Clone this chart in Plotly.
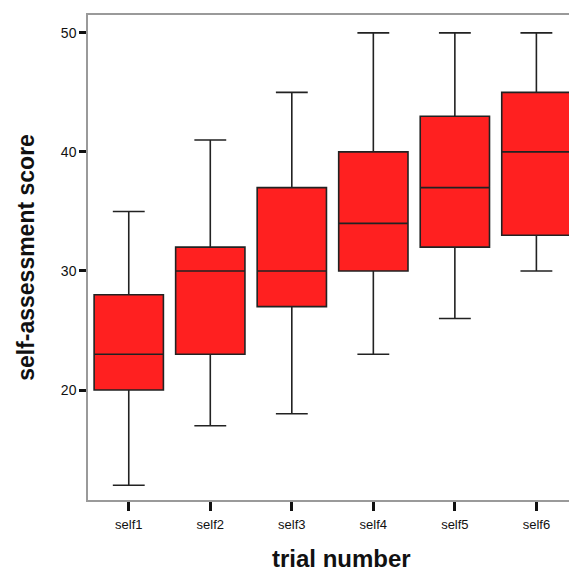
import plotly.graph_objects as go

categories = ["self1", "self2", "self3", "self4", "self5", "self6"]
lower_whisker = [12, 17, 18, 23, 26, 30]
q1_values = [20, 23, 27, 30, 32, 33]
median_values = [23, 30, 30, 34, 37, 40]
q3_values = [28, 32, 37, 40, 43, 45]
upper_whisker = [35, 41, 45, 50, 50, 50]
y_ticks = [20, 30, 40, 50]

fig = go.Figure()
fig.add_trace(go.Box(
    x=categories,
    lowerfence=lower_whisker,
    q1=q1_values,
    median=median_values,
    q3=q3_values,
    upperfence=upper_whisker,
    fillcolor="#ff2020",
    line=dict(color="#222222", width=1.6),
    whiskerwidth=0.46,
    width=0.85,
    boxpoints=False,
    showlegend=False,
    hoverinfo="skip",
))

fig.update_layout(
    width=569, height=576,
    margin=dict(l=88, r=0, t=15, b=76),
    paper_bgcolor="white", plot_bgcolor="white",
    font=dict(family="Arial, Liberation Sans, sans-serif", color="#111111"),
    xaxis=dict(
        type="category",
        range=[-0.5, 5.40],
        showgrid=False,
        showline=True, linecolor="#9a9a9a", linewidth=1.5, mirror=True,
        ticks="outside", ticklen=9, tickwidth=3, tickcolor="#111111",
        ticklabelstandoff=3,
        tickfont=dict(size=13),
    ),
    yaxis=dict(
        range=[10.76, 51.5],
        tickvals=y_ticks,
        showgrid=False, zeroline=False,
        showline=True, linecolor="#9a9a9a", linewidth=1.5, mirror=False,
        ticks="outside", ticklen=7, tickwidth=3, tickcolor="#111111",
        tickfont=dict(size=14),
        title=dict(text="<b>self-assessment score</b>", font=dict(size=23), standoff=20),
    ),
    annotations=[dict(
        text="<b>trial number</b>", xref="paper", yref="paper",
        x=0.526, y=-0.153, xanchor="center", yanchor="bottom",
        showarrow=False, font=dict(size=24),
    )],
)

fig.write_html(
    "out.html",
    config={"displayModeBar": False},
    post_script="document.body.style.margin='0';document.body.style.overflow='hidden';",
)
